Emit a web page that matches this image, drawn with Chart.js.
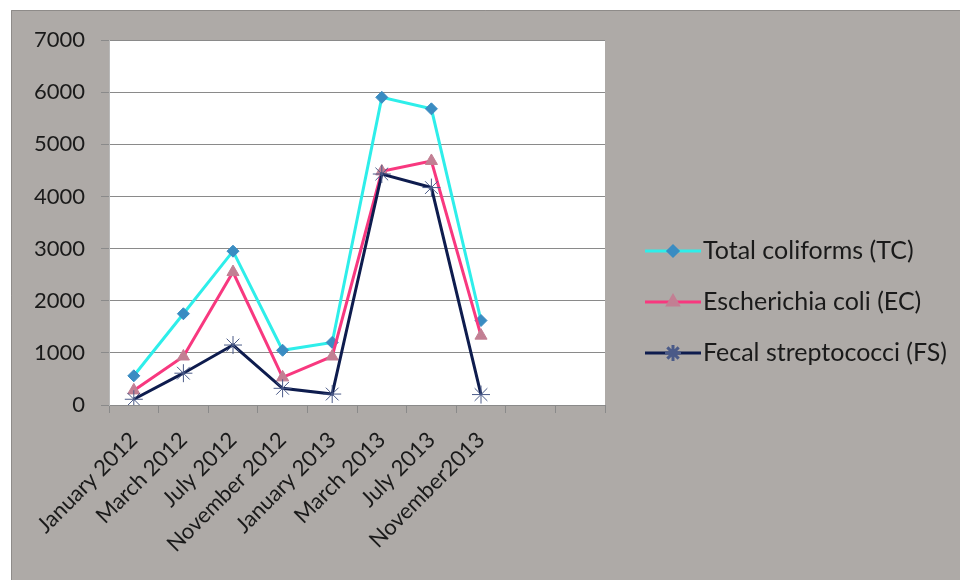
<!DOCTYPE html>
<html>
<head>
<meta charset="utf-8">
<script src="https://cdn.jsdelivr.net/npm/chart.js@4.4.1/dist/chart.umd.min.js"></script>
<style>
  body { margin: 0; background: #fff; }
  canvas { display: block; }
</style>
</head>
<body>
<canvas id="bactChart" width="960" height="580"></canvas>
<script>
// sampling dates (last two slots are empty in the original chart)
const months = ['January 2012', 'March 2012', 'July 2012', 'November 2012',
    'January 2013', 'March 2013', 'July 2013', 'November2013', '', ''];
const totalColiforms = [560, 1750, 2950, 1050, 1200, 5900, 5680, 1620];
const eColi = [280, 930, 2550, 530, 930, 4480, 4680, 1330];
const fecalStrep = [110, 610, 1150, 320, 210, 4430, 4170, 200];
const seriesNames = ['Total coliforms (TC)', 'Escherichia coli (EC)', 'Fecal streptococci (FS)'];
const yTicks = [0, 1000, 2000, 3000, 4000, 5000, 6000, 7000];

const font = "Lato, 'Open Sans', sans-serif";

const backdrop = {
    id: 'backdrop',
    beforeDraw(chart) {
        const c = chart.ctx;
        const a = chart.chartArea;
        c.save();
        c.fillStyle = '#ffffff';
        c.fillRect(0, 0, chart.width, chart.height);
        c.fillStyle = '#aeaaa7';
        c.fillRect(11, 10, chart.width - 11, chart.height - 10);
        c.strokeStyle = '#8e8b89';
        c.lineWidth = 1;
        c.beginPath();
        c.moveTo(11.5, chart.height);
        c.lineTo(11.5, 10.5);
        c.lineTo(chart.width, 10.5);
        c.stroke();
        c.fillStyle = '#ffffff';
        c.fillRect(a.left, a.top, a.right - a.left, a.bottom - a.top);
        c.restore();
    }
};

const sideLegend = {
    id: 'sideLegend',
    afterDraw(chart) {
        const c = chart.ctx;
        c.save();
        chart.data.datasets.forEach((ds, i) => {
            const y = 251 + i * 51;
            c.strokeStyle = ds.borderColor;
            c.lineWidth = 3;
            c.beginPath();
            c.moveTo(645, y);
            c.lineTo(701, y);
            c.stroke();
            c.fillStyle = ds.pointBackgroundColor;
            c.strokeStyle = ds.pointBorderColor;
            Chart.helpers.drawPoint(c, {
                pointStyle: ds.pointStyle,
                radius: ds.pointRadius - 1,
                rotation: 0,
                borderWidth: ds.pointBorderWidth
            }, 673, y);
            c.fillStyle = '#1a1a1a';
            c.font = '25px ' + font;
            c.textBaseline = 'middle';
            c.fillText(ds.label, 703, y);
        });
        c.restore();
    }
};

const ctx = document.getElementById('bactChart');
const data = {
    labels: months,
    datasets: [{
        label: seriesNames[0],
        data: totalColiforms,
        borderColor: '#2eeeea',
        borderWidth: 3,
        pointStyle: 'rectRot',
        pointRadius: 6,
        pointBackgroundColor: '#3a8cc2',
        pointBorderColor: '#3a8cc2',
        pointBorderWidth: 1,
        order: 2
    }, {
        label: seriesNames[1],
        data: eColi,
        borderColor: '#f8387f',
        borderWidth: 3,
        pointStyle: 'triangle',
        pointRadius: 7,
        pointBackgroundColor: '#c27f93',
        pointBorderColor: '#c27f93',
        pointBorderWidth: 1,
        order: 1
    }, {
        label: seriesNames[2],
        data: fecalStrep,
        borderColor: '#0e1c4e',
        borderWidth: 3,
        pointStyle: 'star',
        pointRadius: 9,
        pointBackgroundColor: '#4a5a88',
        pointBorderColor: '#4a5a88',
        pointBorderWidth: 1,
        order: 0
    }]
};

const config = {
    type: 'line',
    data: data,
    plugins: [backdrop, sideLegend],
    options: {
        responsive: false,
        animation: false,
        layout: { padding: { left: 0, top: 40, right: 355, bottom: 0 } },
        elements: { line: { tension: 0 } },
        plugins: {
            legend: { display: false },
            tooltip: { enabled: false }
        },
        scales: {
            x: {
                offset: true,
                afterFit(scale) { scale.height = 175; },
                grid: {
                    offset: true,
                    drawOnChartArea: false,
                    color: '#8a8a8a',
                    tickLength: 8
                },
                border: { color: '#8a8a8a' },
                ticks: {
                    autoSkip: false,
                    maxRotation: 45,
                    minRotation: 45,
                    padding: 14,
                    color: '#1a1a1a',
                    font: { family: font, size: 22 }
                }
            },
            y: {
                min: 0,
                max: 7000,
                afterFit(scale) { scale.width = 109; },
                afterBuildTicks(scale) { scale.ticks = yTicks.map(v => ({ value: v })); },
                grid: { color: '#8a8a8a', tickLength: 8 },
                border: { color: '#b9b9b9' },
                ticks: {
                    color: '#1a1a1a',
                    padding: 16,
                    font: { family: font, size: 22 },
                    callback: (v) => String(v)
                }
            }
        }
    }
};

const bactChart = new Chart(ctx, config);
</script>
</body>
</html>
